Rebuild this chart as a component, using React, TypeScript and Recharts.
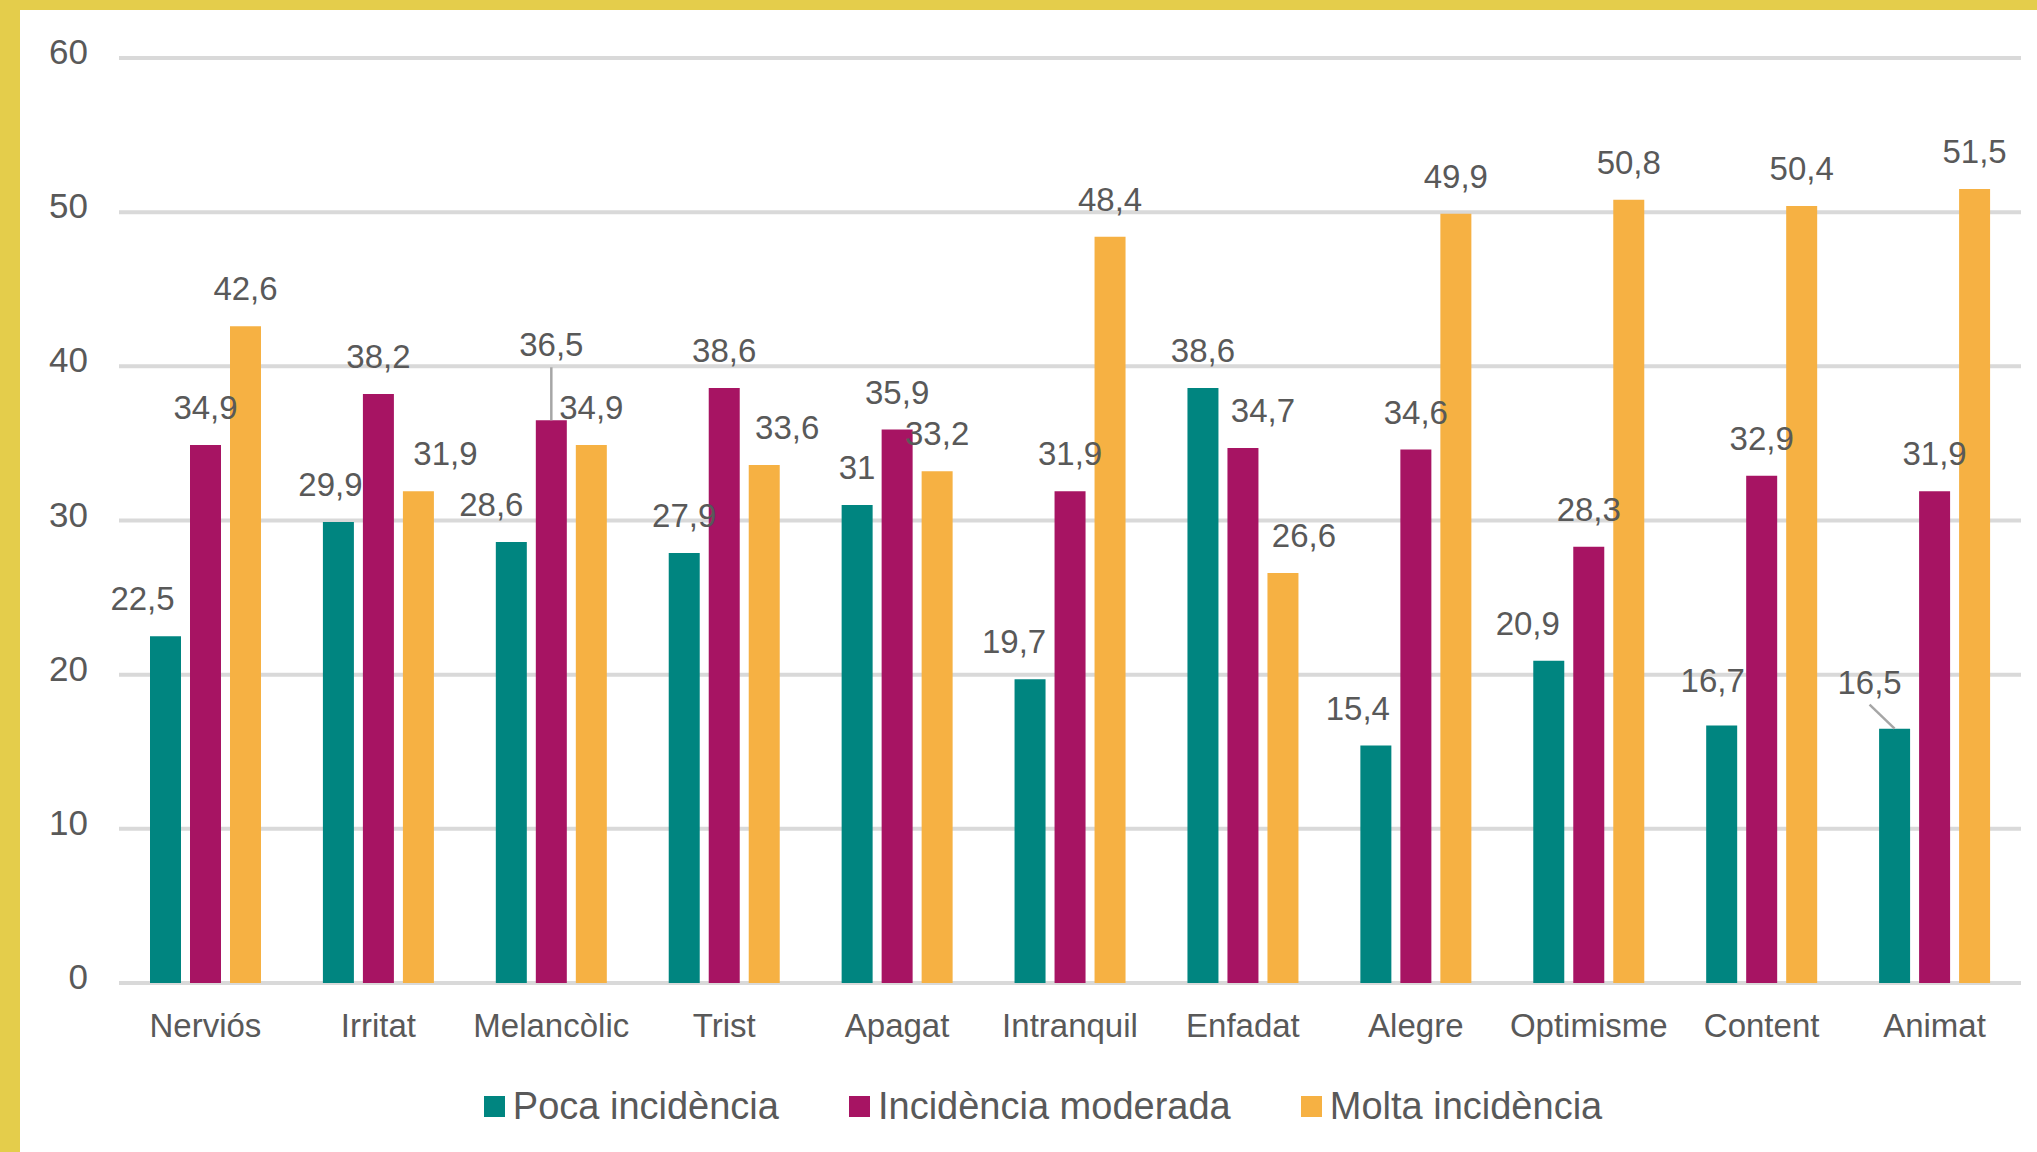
import React from 'react';
import {
  BarChart,
  Bar,
  XAxis,
  YAxis,
  CartesianGrid,
  Legend,
  LabelList,
} from 'recharts';

const categories = [
  'Nerviós',
  'Irritat',
  'Melancòlic',
  'Trist',
  'Apagat',
  'Intranquil',
  'Enfadat',
  'Alegre',
  'Optimisme',
  'Content',
  'Animat',
];
const poca = [22.5, 29.9, 28.6, 27.9, 31, 19.7, 38.6, 15.4, 20.9, 16.7, 16.5];
const moderada = [34.9, 38.2, 36.5, 38.6, 35.9, 31.9, 34.7, 34.6, 28.3, 32.9, 31.9];
const molta = [42.6, 31.9, 34.9, 33.6, 33.2, 48.4, 26.6, 49.9, 50.8, 50.4, 51.5];
const yTicks = [0, 10, 20, 30, 40, 50, 60];

const series = [
  { key: 'poca', name: 'Poca incidència', color: '#008580' },
  { key: 'moderada', name: 'Incidència moderada', color: '#A71463' },
  { key: 'molta', name: 'Molta incidència', color: '#F6B143' },
];

// hand-moved data labels in the original (px nudges), plus leader lines
const labelShift: Record<string, { dx: number[]; dy: number[]; leader: number[] }> = {
  poca: {
    dx: [-23, -8, -20, 0, 0, -16, 0, -18, -21, -9, -25],
    dy: [0, 0, 0, 0, 0, 0, 0, 0, 0, -8, -9],
    leader: [10],
  },
  moderada: {
    dx: [0, 0, 0, 0, 0, 0, 20, 0, 0, 0, 0],
    dy: [0, 0, -38, 0, 0, 0, 0, 0, 0, 0, 0],
    leader: [2],
  },
  molta: {
    dx: [0, 27, 0, 23, 0, 0, 21, 0, 0, 0, 0],
    dy: [0, 0, 0, 0, 0, 0, 0, 0, 0, 0, 0],
    leader: [],
  },
};

const FONT = '"Liberation Sans", Arial, sans-serif';
const TEXT = '#595959';

const data = categories.map((name, i) => ({
  name,
  poca: poca[i],
  moderada: moderada[i],
  molta: molta[i],
}));

const fmt = (v: number) => String(v).replace('.', ',');

const makeLabel = (key: string) => (props: any) => {
  const vb = props.viewBox || {};
  const x = props.x ?? vb.x;
  const y = props.y ?? vb.y;
  const width = props.width ?? vb.width;
  const { value, index } = props;
  const s = labelShift[key];
  const cx = x + width / 2;
  const lx = cx + s.dx[index];
  const base = y - 26 + s.dy[index];
  return (
    <g>
      {s.leader.includes(index) && (
        <line x1={lx} y1={base + 11} x2={cx} y2={y} stroke="#A6A6A6" strokeWidth={2.5} />
      )}
      <text x={lx} y={base} textAnchor="middle" fontSize={33} fill={TEXT} fontFamily={FONT}>
        {fmt(value)}
      </text>
    </g>
  );
};

const XTick = ({ x, y, payload }: any) => (
  <text x={x} y={y + 54} textAnchor="middle" fontSize={33} fill={TEXT} fontFamily={FONT}>
    {payload.value}
  </text>
);

const YTick = ({ x, y, payload }: any) => (
  <text x={x - 31} y={y + 6} textAnchor="end" fontSize={35} fill={TEXT} fontFamily={FONT}>
    {payload.value}
  </text>
);

const LegendContent = () => (
  <div
    style={{
      display: 'flex',
      justifyContent: 'center',
      alignItems: 'flex-start',
      height: 70,
      paddingLeft: 45,
      boxSizing: 'border-box',
    }}
  >
    {series.map((s, i) => (
      <div
        key={s.key}
        style={{ display: 'flex', alignItems: 'center', height: 48, marginLeft: i ? 70 : 0 }}
      >
        <span style={{ width: 21, height: 21, background: s.color, marginRight: 8, display: 'inline-block' }} />
        <span style={{ fontSize: 38, color: TEXT, fontFamily: FONT, lineHeight: '48px', whiteSpace: 'nowrap' }}>
          {s.name}
        </span>
      </div>
    ))}
  </div>
);

export default function App() {
  return (
    <div
      style={{
        position: 'absolute',
        left: 0,
        top: 0,
        width: 2037,
        height: 1152,
        boxSizing: 'border-box',
        background: '#FFFFFF',
        borderTop: '10px solid #E4CD4B',
        borderLeft: '20px solid #E4CD4B',
      }}
    >
      <BarChart
        width={2017}
        height={1142}
        data={data}
        margin={{ top: 48, right: 16, left: 0, bottom: 0 }}
        barSize={31}
        barGap={9}
      >
        <CartesianGrid vertical={false} stroke="#D9D9D9" strokeWidth={4} />
        <XAxis
          dataKey="name"
          interval={0}
          tickLine={false}
          axisLine={false}
          tickSize={0}
          tickMargin={0}
          height={99}
          tick={<XTick />}
        />
        <YAxis
          domain={[0, 60]}
          ticks={yTicks}
          width={99}
          tickLine={false}
          axisLine={false}
          tickSize={0}
          tickMargin={0}
          tick={<YTick />}
        />
        <Legend verticalAlign="bottom" content={<LegendContent />} />
        {series.map((s) => (
          <Bar key={s.key} dataKey={s.key} name={s.name} fill={s.color} isAnimationActive={false}>
            <LabelList dataKey={s.key} content={makeLabel(s.key)} />
          </Bar>
        ))}
      </BarChart>
    </div>
  );
}
